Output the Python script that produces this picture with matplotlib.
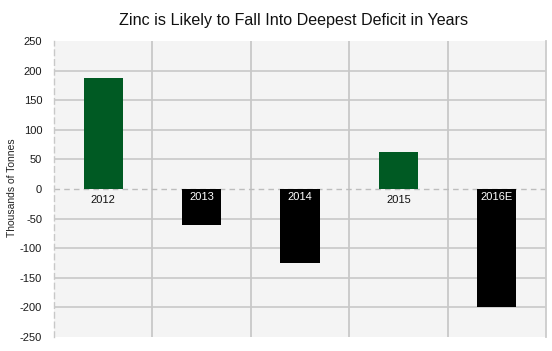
import matplotlib
matplotlib.use("Agg")
import matplotlib.pyplot as plt
import numpy as np

categories = ["2012", "2013", "2014", "2015", "2016E"]
values = [188, -60, -125, 62, -200]
yticks = [250, 200, 150, 100, 50, 0, -50, -100, -150, -200, -250]

plt.rcParams['font.family'] = ['Liberation Sans', 'DejaVu Sans']

fig = plt.figure(figsize=(5.52, 3.51), dpi=100)
ax = fig.add_axes([54/552, 1-337/351, (546-54)/552, (337-41)/351])
ax.set_facecolor('#f4f4f4')

x = np.arange(len(categories))
colors = ['#005a23' if v > 0 else '#000000' for v in values]
ax.bar(x, values, width=0.4, color=colors, zorder=3)

ax.set_xlim(-0.5, len(categories) - 0.5)
ax.set_ylim(-250, 250)
ax.set_yticks(yticks)
ax.set_yticklabels([str(t) for t in yticks], fontsize=8, color='#1a1a1a')
ax.tick_params(axis='y', length=0, pad=8.5)
ax.set_xticks([])

for t in yticks:
    if t == 0:
        ax.axhline(0, color='#bdbdbd', lw=1.0, ls=(0, (4, 3)), zorder=2)
    elif t not in (250, -250):
        ax.axhline(t, color='#cccccc', lw=1.3, zorder=1)
for b in np.arange(0.5, len(categories) - 0.5, 1.0):
    ax.axvline(b, color='#c8c8c8', lw=1.3, zorder=1)

for s in ['top', 'bottom']:
    ax.spines[s].set_visible(False)
ax.spines['right'].set_color('#cccccc')
ax.spines['right'].set_linewidth(1.3)
ax.spines['left'].set_color('#c8c8c8')
ax.spines['left'].set_linestyle((0, (4, 3)))
ax.spines['left'].set_linewidth(1.0)

for xi, (c, v) in enumerate(zip(categories, values)):
    if v > 0:
        ax.text(xi, -19, c, ha='center', va='center', fontsize=8, color='#111111', zorder=4)
    else:
        ax.text(xi, -14, c, ha='center', va='center', fontsize=8, color='white', zorder=4)

fig.text(12/552, 1-188/351, "Thousands of Tonnes", rotation=90, ha='center', va='center',
         fontsize=7.5, color='#222222')
fig.text(294/552, 1-20/351, "Zinc is Likely to Fall Into Deepest Deficit in Years",
         ha='center', va='center', fontsize=11.6, color='#111111')

fig.savefig("out.png", dpi=100)
